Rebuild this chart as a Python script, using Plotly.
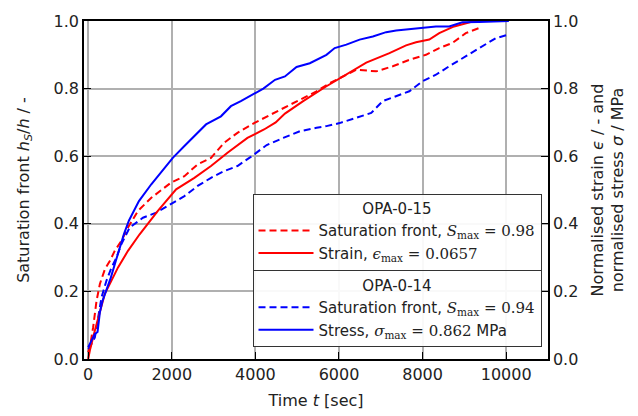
import plotly.graph_objects as go

# OPA-0-15 saturation front (red dashed)
t_sat15 = [0, 40, 119, 200, 280, 398, 517, 636, 795, 952, 1190, 1510, 1985, 2302, 2619, 2938,
           3255, 3571, 3969, 4367, 4683, 5064, 5462, 5778, 6095, 6414, 6890, 7286, 7683, 8080,
           8398, 8714, 9033, 9350]
s_sat15 = [0.02, 0.035, 0.094, 0.172, 0.222, 0.265, 0.29, 0.32, 0.35, 0.389, 0.438, 0.477, 0.522,
           0.541, 0.576, 0.595, 0.64, 0.669, 0.698, 0.723, 0.743, 0.768, 0.792, 0.816, 0.836, 0.856,
           0.851, 0.866, 0.885, 0.90, 0.92, 0.935, 0.964, 0.979]

# OPA-0-15 strain (red solid)
t_strain = [0, 40, 160, 280, 398, 557, 714, 952, 1231, 1667, 2104, 2540, 2938, 3333, 3810, 4207,
            4486, 4707, 5143, 5700, 6176, 6652, 7207, 7605, 7843, 8160, 8398, 8755, 9152, 9350]
e_strain = [0, 0.025, 0.084, 0.143, 0.193, 0.232, 0.271, 0.32, 0.369, 0.438, 0.502, 0.536, 0.571,
            0.61, 0.654, 0.679, 0.70, 0.726, 0.763, 0.807, 0.841, 0.877, 0.905, 0.928, 0.937, 0.945,
            0.964, 0.984, 0.997, 1.0]

# OPA-0-14 saturation front (blue dashed)
t_sat14 = [0, 40, 160, 238, 319, 438, 557, 676, 795, 993, 1310, 1628, 1985, 2302, 2619, 2938, 3255,
           3571, 3890, 4271, 4667, 5064, 5462, 5700, 6016, 6414, 6771, 7048, 7367, 7683, 8000, 8319,
           8636, 9033, 9430, 9747, 10064]
s_sat14 = [0.03, 0.035, 0.064, 0.123, 0.182, 0.232, 0.27, 0.30, 0.34, 0.389, 0.418, 0.433, 0.458,
           0.482, 0.512, 0.536, 0.556, 0.571, 0.598, 0.633, 0.654, 0.674, 0.684, 0.689, 0.698, 0.713,
           0.728, 0.763, 0.777, 0.792, 0.822, 0.841, 0.866, 0.895, 0.925, 0.949, 0.96]

# OPA-0-14 stress (blue solid)
t_stress = [0, 160, 224, 280, 343, 450, 540, 660, 760, 857, 976, 1214, 1510, 1826, 2024, 2302, 2540,
            2819, 3176, 3414, 3652, 3874, 4190, 4470, 4707, 4985, 5302, 5700, 5897, 6176, 6493, 6810,
            7128, 7367, 8000, 8319, 8636, 8952, 9350, 10064]
p_stress = [0.035, 0.074, 0.08, 0.138, 0.172, 0.21, 0.24, 0.29, 0.33, 0.37, 0.41, 0.467, 0.517, 0.566,
            0.595, 0.63, 0.659, 0.694, 0.718, 0.748, 0.763, 0.779, 0.80, 0.826, 0.836, 0.864, 0.875,
            0.90, 0.92, 0.93, 0.945, 0.954, 0.967, 0.972, 0.979, 0.984, 0.984, 0.996, 0.997, 1.0]

x_ticks = [0, 2000, 4000, 6000, 8000, 10000]
x_ticktext = ["0", "2000", "4000", "6000", "8000", "10000"]
y_ticks = [0.0, 0.2, 0.4, 0.6, 0.8, 1.0]

RED = "#ff0000"
BLUE = "#0000ff"
FONT = "DejaVu Sans"
M = 'font-family:DejaVu Serif'

fig = go.Figure()
fig.add_trace(go.Scatter(x=t_sat15, y=s_sat15, mode="lines",
                         line=dict(color=RED, width=2, dash="7px,4px"),
                         name=f"Saturation front, <span style='{M}'><i>S</i><sub>max</sub> = 0.98</span>",
                         legend="legend"))
fig.add_trace(go.Scatter(x=t_strain, y=e_strain, mode="lines", yaxis="y2",
                         line=dict(color=RED, width=2),
                         name=f"Strain, <span style='{M}'><i>ϵ</i><sub>max</sub> = 0.0657</span>",
                         legend="legend"))
fig.add_trace(go.Scatter(x=t_sat14, y=s_sat14, mode="lines",
                         line=dict(color=BLUE, width=2, dash="7px,4px"),
                         name=f"Saturation front, <span style='{M}'><i>S</i><sub>max</sub> = 0.94</span>",
                         legend="legend2"))
fig.add_trace(go.Scatter(x=t_stress, y=p_stress, mode="lines", yaxis="y2",
                         line=dict(color=BLUE, width=2),
                         name=f"Stress, <span style='{M}'><i>σ</i><sub>max</sub> = 0.862</span> MPa",
                         legend="legend2"))

axis_common = dict(showline=True, linecolor="black", linewidth=1.5, ticks="inside",
                   ticklen=7, tickwidth=1.3, tickcolor="black", zeroline=False,
                   tickfont=dict(size=16, color="#222"))

legend_common = dict(bgcolor="rgba(255,255,255,0.92)", bordercolor="#333", borderwidth=1,
                     font=dict(size=15, family=FONT, color="#222"),
                     xanchor="right", yanchor="top", tracegroupgap=0, itemwidth=55,
                     traceorder="normal")

fig.update_layout(
    width=638, height=416,
    margin=dict(l=84, r=90, t=19, b=57),
    paper_bgcolor="white", plot_bgcolor="white",
    font=dict(family=FONT, size=16, color="#222"),
    showlegend=True,
    xaxis=dict(range=[-100, 11000], tickvals=x_ticks, ticktext=x_ticktext, showgrid=True,
               gridcolor="#b0b0b0", gridwidth=1.5, mirror=True, automargin=False,
               title=dict(text="Time <i>t</i> [sec]", font=dict(size=16), standoff=12),
               **axis_common),
    yaxis=dict(range=[0, 1], tickvals=y_ticks, tickformat=".1f", showgrid=True,
               gridcolor="#b0b0b0", gridwidth=1.5,
               title=dict(text="Saturation front <i>h<sub>S</sub></i>/<i>h</i> / -",
                          font=dict(size=16), standoff=20),
               **axis_common),
    yaxis2=dict(range=[0, 1], tickvals=y_ticks, tickformat=".1f", overlaying="y", side="right",
                showgrid=False,
                title=dict(text="Normalised strain <i>ϵ</i> / - and<br>normalised stress <i>σ</i> / MPa",
                           font=dict(size=16), standoff=14),
                **axis_common),
    legend=dict(x=0.986, y=0.489,
                title=dict(text="OPA-0-15", side="top center", font=dict(size=15)),
                **legend_common),
    legend2=dict(x=0.986, y=0.262,
                 title=dict(text="OPA-0-14", side="top center", font=dict(size=15)),
                 **legend_common),
)

fig.write_html("out.html")
